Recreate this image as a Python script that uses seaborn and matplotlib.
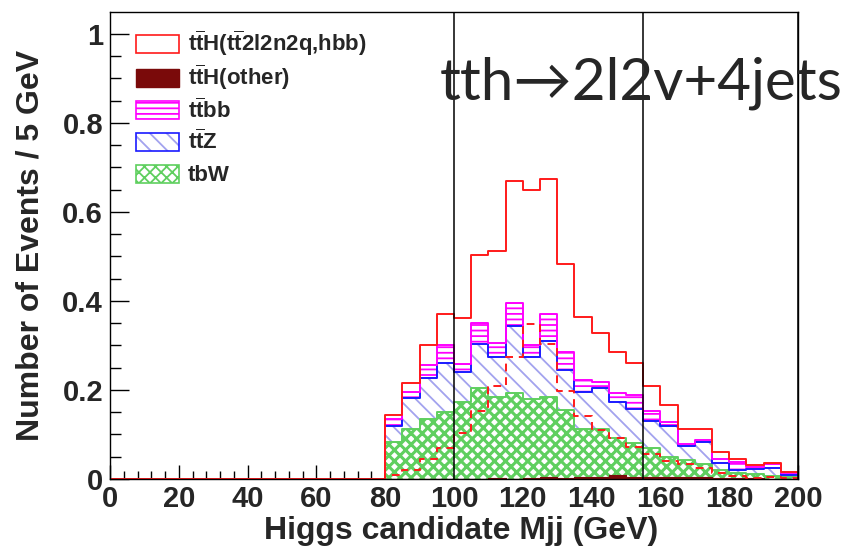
import numpy as np
import pandas as pd
import matplotlib
matplotlib.use("Agg")
import matplotlib.pyplot as plt
import seaborn as sns
from matplotlib.patches import Patch, Rectangle
from matplotlib.legend_handler import HandlerPatch
from matplotlib.ticker import MultipleLocator, FuncFormatter

# ---------------- data (5 GeV bins, 80-200 GeV) ----------------
bin_low = [80, 85, 90, 95, 100, 105, 110, 115, 120, 125, 130, 135,
           140, 145, 150, 155, 160, 165, 170, 175, 180, 185, 190, 195]
signal = [0.010, 0.020, 0.045, 0.070, 0.103, 0.152, 0.208, 0.275, 0.349, 0.303, 0.197, 0.142,
          0.110, 0.091, 0.071, 0.057, 0.040, 0.034, 0.024, 0.014, 0.007, 0.003, 0.004, 0.003]
tth_other = [0.0, 0.0, 0.0, 0.0, 0.0, 0.0, 0.003, 0.0, 0.003, 0.005, 0.003, 0.005,
             0.005, 0.009, 0.005, 0.005, 0.004, 0.004, 0.004, 0.003, 0.002, 0.002, 0.001, 0.001]
ttbb = [0.014, 0.014, 0.029, 0.039, 0.017, 0.048, 0.030, 0.051, 0.027, 0.061, 0.040, 0.027,
        0.013, 0.022, 0.032, 0.022, 0.008, 0.004, 0.006, 0.009, 0.018, 0.006, 0.009, 0.004]
ttz = [0.036, 0.069, 0.092, 0.110, 0.069, 0.099, 0.090, 0.151, 0.094, 0.124, 0.090, 0.084,
       0.092, 0.079, 0.077, 0.061, 0.070, 0.031, 0.048, 0.017, 0.007, 0.011, 0.017, 0.005]
tbw = [0.084, 0.112, 0.134, 0.151, 0.172, 0.204, 0.182, 0.193, 0.176, 0.180, 0.152, 0.107,
       0.107, 0.084, 0.075, 0.064, 0.045, 0.039, 0.030, 0.017, 0.011, 0.009, 0.006, 0.003]

TB = r"t$\overline{\mathbf{t}}$"
labels = [TB + "H(" + TB + "2l2n2q,hbb)", TB + "H(other)", TB + "bb", TB + "Z", "tbW"]
x_ticks = [0, 20, 40, 60, 80, 100, 120, 140, 160, 180, 200]
y_ticks = [0, 0.2, 0.4, 0.6, 0.8, 1.0]
cut_lines = [100, 155, 200]
title_text = "tth\u21922l2v+4jets"

# ---------------- build table (empty bins below 80 GeV) ----------------
edges = [float(e) for e in np.arange(0, 205, 5)]
centers = np.arange(0, 200, 5) + 2.5
pad = np.zeros(len(centers) - len(bin_low))
def full(v):
    return np.concatenate([pad, np.asarray(v, dtype=float)])

df = pd.DataFrame({"mjj": centers})
df["sig_alone"] = full(signal)
df["c_other"] = full(tth_other)
df["c_tbw"] = df["c_other"] + full(tbw)
df["c_ttz"] = df["c_tbw"] + full(ttz)
df["c_ttbb"] = df["c_ttz"] + full(ttbb)
df["c_sig"] = df["c_ttbb"] + full(signal)

# ---------------- style ----------------
sns.set_style("ticks")
plt.rcParams["font.family"] = ["Liberation Sans", "DejaVu Sans"]
plt.rcParams["font.weight"] = "bold"
plt.rcParams["mathtext.fontset"] = "custom"
plt.rcParams["mathtext.rm"] = "Liberation Sans:bold"
plt.rcParams["mathtext.bf"] = "Liberation Sans:bold"
plt.rcParams["mathtext.it"] = "Liberation Sans:bold"
plt.rcParams["hatch.linewidth"] = 1.3

C_RED = "#ff1a1a"
C_DARK = "#7a0a0a"
C_MAG = "#ff00ff"
C_BLUE = "#1a1aff"
C_LAV = "#a3a3ee"
C_GREEN = "#5fcf5f"

fig = plt.figure(figsize=(8.48, 5.54), dpi=100)
ax = fig.add_axes([110 / 848, 1 - 479 / 554, 688 / 848, 467 / 554])

common = dict(data=df, x="mjj", bins=edges, element="step", ax=ax)

# filled hatched layers (cumulative, drawn top-down)
sns.histplot(weights="c_ttbb", fill=True, facecolor="white", edgecolor=C_MAG,
             linewidth=0, hatch="---", **common)
sns.histplot(weights="c_ttz", fill=True, facecolor="white", edgecolor=C_LAV,
             linewidth=0, hatch="\\\\", **common)
with plt.rc_context({"hatch.linewidth": 2.2}):
    sns.histplot(weights="c_tbw", fill=True, facecolor="white", edgecolor=C_GREEN,
                 linewidth=0, hatch="xxx", **common)
sns.histplot(weights="c_other", fill=True, facecolor=C_DARK, edgecolor=C_DARK,
             linewidth=0.8, **common)

# outlines
sns.histplot(weights="c_tbw", fill=False, color=C_GREEN, linewidth=1.4, **common)
sns.histplot(weights="c_ttz", fill=False, color=C_BLUE, linewidth=1.4, **common)
sns.histplot(weights="c_ttbb", fill=False, color=C_MAG, linewidth=1.4, **common)
sns.histplot(weights="c_sig", fill=False, color=C_RED, linewidth=1.4, **common)
sns.histplot(weights="sig_alone", fill=False, color=C_RED, linewidth=1.4,
             linestyle=(0, (4, 3)), **common)

for xv in cut_lines:
    ax.axvline(xv, color="black", linewidth=1.1, zorder=5)

# ---------------- axes ----------------
ax.set_xlim(0, 200)
ax.set_ylim(0, 1.049)
ax.set_xticks(x_ticks)
ax.set_yticks(y_ticks)
ax.xaxis.set_minor_locator(MultipleLocator(4))
ax.yaxis.set_minor_locator(MultipleLocator(0.05))
ax.yaxis.set_major_formatter(FuncFormatter(lambda v, p: f"{v:g}"))
ax.tick_params(axis="both", which="both", direction="in", top=False, right=False,
               labelsize=21, width=1, color="black")
ax.tick_params(axis="y", which="major", length=14, pad=5)
ax.tick_params(axis="y", which="minor", length=8)
ax.tick_params(axis="x", which="major", length=10, pad=4)
ax.tick_params(axis="x", which="minor", length=6)
for lab in ax.get_xticklabels() + ax.get_yticklabels():
    lab.set_fontweight("bold")
for s in ax.spines.values():
    s.set_visible(True)
    s.set_linewidth(1.0)
    s.set_color("black")

ax.set_xlabel("Higgs candidate Mjj (GeV)", fontsize=23, fontweight="bold")
ax.set_ylabel("Number of Events / 5 GeV", fontsize=23, fontweight="bold")
ax.xaxis.set_label_coords(0.51, -0.079)
ax.yaxis.set_label_coords(-0.094, 0.5)

# ---------------- legend ----------------
PATCH_FRAC = 0.66  # legend swatch height as a fraction of the row height

def small_rect(legend, orig_handle, xdescent, ydescent, width, height, fontsize):
    h = height * PATCH_FRAC
    return Rectangle((-xdescent, -ydescent + (height - h) / 2), width, h)

hp = HandlerPatch(patch_func=small_rect)
handles = [
    Patch(facecolor="white", edgecolor=C_RED, linewidth=1.2),
    Patch(facecolor=C_DARK, edgecolor=C_DARK, linewidth=1.0),
    Patch(facecolor="white", edgecolor=C_MAG, hatch="---", linewidth=1.2),
    (Patch(facecolor="white", edgecolor=C_LAV, hatch="\\\\", linewidth=0),
     Patch(facecolor="none", edgecolor=C_BLUE, linewidth=1.2)),
    Patch(facecolor="white", edgecolor=C_GREEN, hatch="xxx", linewidth=1.2),
]
leg = ax.legend(handles, labels, loc="upper left",
                bbox_to_anchor=((136 - 110) / 688, (479 - 29) / 467),
                frameon=False, borderpad=0, borderaxespad=0,
                handlelength=1.95, handleheight=1.5, handletextpad=0.4,
                labelspacing=0.2, prop={"size": 16, "weight": "bold"},
                handler_map={Patch: hp})

fig.text(440 / 848, 1 - 100 / 554, title_text, fontsize=42,
         family=["Lato", "DejaVu Sans"], fontweight="normal", va="baseline", ha="left")

fig.savefig("out.png", dpi=100)
